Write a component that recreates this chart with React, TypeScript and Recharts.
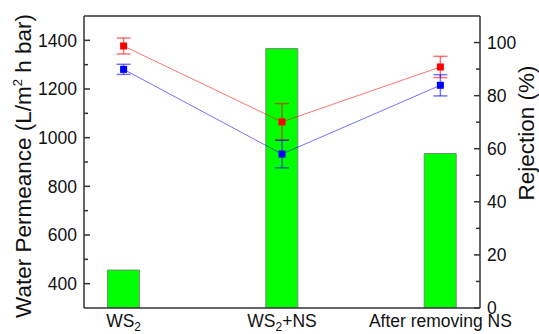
import { ComposedChart, Bar, Line, XAxis, YAxis, ErrorBar, ReferenceLine } from 'recharts';

const categories = ['WS2', 'WS2+NS', 'After removing NS'];
const permeance = [456, 1366, 935];
const rejectionRed = [98.7, 70.1, 90.8];
const rejectionRedErr = [3.0, 6.9, 4.0];
const rejectionBlue = [89.9, 58.0, 83.9];
const rejectionBlueErr = [1.9, 5.2, 4.0];
const permeanceTicks = [400, 500, 600, 700, 800, 900, 1000, 1100, 1200, 1300, 1400];
const rejectionTicks = [0, 10, 20, 30, 40, 50, 60, 70, 80, 90, 100];

const FONT = '"Liberation Sans", Arial, sans-serif';
const AXIS = '#333';

const data = categories.map((name, i) => ({
  x: i,
  name,
  permeance: permeance[i],
  red: rejectionRed[i],
  redErr: rejectionRedErr[i],
  blue: rejectionBlue[i],
  blueErr: rejectionBlueErr[i],
}));

// "WS2" -> WS + subscript 2
function withSub(label: string) {
  const m = label.match(/^WS2(.*)$/);
  if (!m) return label;
  return [
    <tspan key="a">WS</tspan>,
    <tspan key="b" fontSize={12} dy={4}>2</tspan>,
    <tspan key="c" dy={-4}>{m[1]}</tspan>,
  ];
}

function LeftTick({ x, y, payload }: any) {
  const major = payload.value % 200 === 0;
  return (
    <g>
      <line x1={x} x2={x + (major ? 6 : 4)} y1={y} y2={y} stroke={AXIS} strokeWidth={1.5} />
      {major && (
        <text x={x - 7} y={y} dy="0.36em" textAnchor="end" fontSize={17.5} fill="#111" fontFamily={FONT}>
          {payload.value}
        </text>
      )}
    </g>
  );
}

function RightTick({ x, y, payload }: any) {
  const major = payload.value % 20 === 0;
  return (
    <g>
      <line x1={x} x2={x - (major ? 6 : 4)} y1={y} y2={y} stroke={AXIS} strokeWidth={1.5} />
      {major && (
        <text x={x + 7} y={y} dy="0.36em" textAnchor="start" fontSize={17.5} fill="#111" fontFamily={FONT}>
          {payload.value}
        </text>
      )}
    </g>
  );
}

function BottomTick({ x, y, payload }: any) {
  const label = categories[payload.value];
  if (label === undefined) return null;
  return (
    <text x={x} y={y + 19} textAnchor="middle" fontSize={17.5} fill="#111" fontFamily={FONT}>
      {withSub(label)}
    </text>
  );
}

function SquareDot(color: string) {
  return ({ cx, cy, index }: any) => (
    <rect key={index} x={cx - 3.5} y={cy - 3.5} width={7} height={7} fill={color} />
  );
}

export default function App() {
  return (
    <div style={{ position: 'absolute', left: 0, top: 0, background: '#fff' }}>
      <ComposedChart width={539} height={334} data={data} margin={{ top: 16, right: 0, bottom: 0, left: 0 }}>
        <XAxis
          dataKey="x"
          type="number"
          domain={[-0.25, 2.25]}
          ticks={[0, 1, 2]}
          interval={0}
          height={26}
          tickLine={false}
          tickSize={0}
          tickMargin={0}
          axisLine={{ stroke: AXIS, strokeWidth: 1.5 }}
          tick={<BottomTick />}
        />
        <YAxis
          yAxisId="left"
          orientation="left"
          width={84}
          domain={[300, 1500]}
          allowDataOverflow
          ticks={permeanceTicks}
          interval={0}
          tickLine={false}
          tickSize={0}
          tickMargin={0}
          axisLine={{ stroke: AXIS, strokeWidth: 1.5 }}
          tick={<LeftTick />}
          label={{
            content: () => (
              <text
                x={31}
                y={166}
                transform="rotate(-90, 31, 166)"
                textAnchor="middle"
                fontSize={22.5}
                fill="#111"
                fontFamily={FONT}
              >
                Water Permeance (L/m<tspan fontSize={13} dy={-9}>2</tspan>
                <tspan dy={9}> h bar)</tspan>
              </text>
            ),
          }}
        />
        <YAxis
          yAxisId="right"
          orientation="right"
          width={59}
          domain={[0, 110]}
          allowDataOverflow
          ticks={rejectionTicks}
          interval={0}
          tickLine={false}
          tickSize={0}
          tickMargin={0}
          axisLine={{ stroke: AXIS, strokeWidth: 1.5 }}
          tick={<RightTick />}
          label={{
            content: () => (
              <text
                x={534}
                y={133}
                transform="rotate(-90, 534, 133)"
                textAnchor="middle"
                fontSize={22.5}
                fill="#111"
                fontFamily={FONT}
              >
                Rejection (%)
              </text>
            ),
          }}
        />
        <ReferenceLine yAxisId="left" y={1500} stroke={AXIS} strokeWidth={1.5} />
        <Bar
          yAxisId="left"
          dataKey="permeance"
          barSize={32}
          fill="#00ff00"
          stroke="#6f8f6f"
          strokeWidth={1}
          isAnimationActive={false}
        />
        <Line
          yAxisId="right"
          dataKey="red"
          stroke="#ff0000"
          strokeOpacity={0.55}
          strokeWidth={1}
          dot={SquareDot('#ff0000')}
          activeDot={false}
          isAnimationActive={false}
        >
          <ErrorBar dataKey="redErr" width={7} stroke="#ff0000" strokeOpacity={0.55} direction="y" />
        </Line>
        <Line
          yAxisId="right"
          dataKey="blue"
          stroke="#0000ff"
          strokeOpacity={0.55}
          strokeWidth={1}
          dot={SquareDot('#0000ff')}
          activeDot={false}
          isAnimationActive={false}
        >
          <ErrorBar dataKey="blueErr" width={7} stroke="#0000ff" strokeOpacity={0.55} direction="y" />
        </Line>
      </ComposedChart>
    </div>
  );
}
